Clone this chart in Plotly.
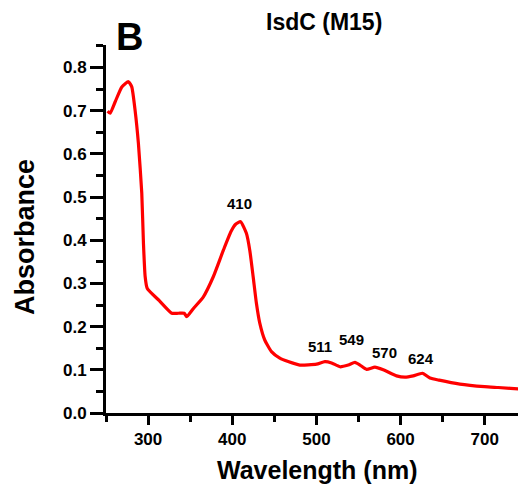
import plotly.graph_objects as go

wavelength = [252, 254.9, 260.8, 268.8, 276.7, 280.6, 284.6, 288.5, 292.5, 294.5,
              296.5, 298.9, 313.3, 328.1, 336, 342.9, 345.9, 353.9, 365.7, 377.6,
              389.5, 398.5, 404, 409.9, 416.8, 420.8, 424.8, 428.7, 432.7, 438.6,
              446.6, 456.5, 466.4, 480.3, 500.1, 510, 518, 528, 537.9, 545.8,
              551.7, 559.6, 569.5, 579.4, 595.2, 605.1, 615, 626, 634.9, 645.9,
              670.4, 699.8, 716, 745.6, 749]
absorbance = [0.699, 0.694, 0.72, 0.755, 0.767, 0.755, 0.70, 0.624, 0.509, 0.393,
              0.316, 0.289, 0.26, 0.231, 0.231, 0.231, 0.223, 0.242, 0.269, 0.316,
              0.377, 0.420, 0.437, 0.443, 0.416, 0.377, 0.316, 0.254, 0.208, 0.169,
              0.142, 0.127, 0.119, 0.111, 0.113, 0.119, 0.116, 0.107, 0.111, 0.117,
              0.111, 0.101, 0.106, 0.100, 0.086, 0.083, 0.086, 0.092, 0.081, 0.076,
              0.067, 0.061, 0.059, 0.055, 0.055]

peak_labels = ["410", "511", "549", "570", "624"]
peak_x = [409, 504, 541.6, 581, 624.7]
peak_y = [0.486, 0.153, 0.170, 0.140, 0.127]

x_ticks = [300, 400, 500, 600, 700]
y_ticks = [0.0, 0.1, 0.2, 0.3, 0.4, 0.5, 0.6, 0.7, 0.8]

FONT = "Liberation Sans, Arial, sans-serif"

# page body has an 8px margin; compensate so the plot lands where the reference has it
OFF = 8
W, H = 526 - OFF, 489 - OFF
L, R, T, B = 106 - OFF, 526 - OFF, 45 - OFF, 413 - OFF

fig = go.Figure()
fig.add_trace(go.Scatter(x=wavelength, y=absorbance, mode="lines",
                         line=dict(color="#ff0000", width=3.2, shape="spline", smoothing=0.5),
                         showlegend=False, hoverinfo="skip", cliponaxis=True))

for t, px, py in zip(peak_labels, peak_x, peak_y):
    fig.add_annotation(x=px, y=py, text=t, showarrow=False, xref="x", yref="y",
                       xanchor="center", yanchor="middle",
                       font=dict(family=FONT, size=15, color="black", weight="bold"))

def px2paper(px, py):
    px -= OFF
    py -= OFF
    return (px - L) / (R - L), (B - py) / (B - T)

def label(px, py, text, size, angle=0):
    x, y = px2paper(px, py)
    fig.add_annotation(x=x, y=y, xref="paper", yref="paper", text=text, textangle=angle,
                       xanchor="center", yanchor="middle", showarrow=False,
                       font=dict(family=FONT, size=size, color="black", weight="bold"))

label(317, 470, "Wavelength (nm)", 25)
label(25, 237, "Absorbance", 27, -90)
label(324, 22, "IsdC (M15)", 23)
label(129, 37, "B", 38)

fig.update_layout(
    width=W, height=H,
    margin=dict(l=L, r=W - R, t=T, b=H - B, autoexpand=False),
    paper_bgcolor="white", plot_bgcolor="white",
    font=dict(family=FONT, color="black"),
)
fig.update_xaxes(range=[250, 749], tickvals=x_ticks, ticks="outside", ticklen=9, tickwidth=2.5,
                 tickcolor="black", showline=True, linecolor="black", linewidth=3,
                 showgrid=False, zeroline=False, automargin=False,
                 tickfont=dict(family=FONT, size=17, color="black", weight="bold"),
                 minor=dict(dtick=50, tick0=250, ticks="outside", ticklen=6, tickwidth=2.5,
                            tickcolor="black", showgrid=False))
fig.update_yaxes(range=[0, 0.852], tickvals=y_ticks, tickformat=".1f", ticks="outside", ticklen=13,
                 tickwidth=2.5, tickcolor="black", showline=True, linecolor="black", linewidth=3,
                 showgrid=False, zeroline=False, automargin=False,
                 tickfont=dict(family=FONT, size=17, color="black", weight="bold"),
                 minor=dict(dtick=0.05, tick0=0, ticks="outside", ticklen=7, tickwidth=2.5,
                            tickcolor="black", showgrid=False))

fig.write_html("out.html")
